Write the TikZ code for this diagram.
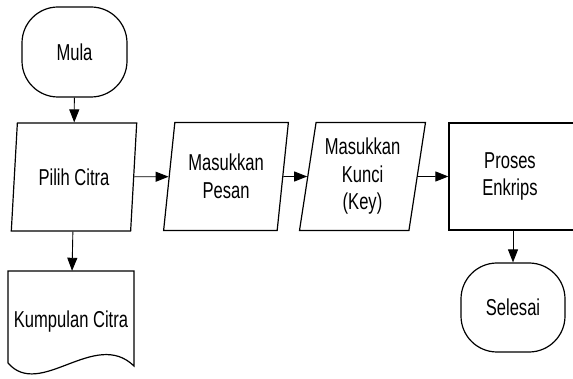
\documentclass[tikz,border=0pt]{standalone}
\usepackage{fontspec}
\setmainfont[FakeStretch=0.72]{Liberation Sans}
\usetikzlibrary{arrows.meta,shapes.geometric}
\tikzset{
	shape line/.style={line width=1.2pt},
	term/.style={shape line, draw, rounded corners=36pt, minimum width=105pt, minimum height=90pt},
	inout/.style={shape line, draw, trapezium, trapezium left angle=80, trapezium right angle=100, trapezium stretches=true, minimum width=126pt, minimum height=108pt, align=center},
	proc/.style={shape line, draw, rectangle, minimum width=132pt, minimum height=107pt, align=center},
	flow/.style={line width=0.9pt, -{Triangle[length=13pt,width=10pt]}}
}

\begin{document}
\begin{tikzpicture}[x=1pt,y=-1pt,font=\fontsize{23}{27.5}\selectfont]
			%%%%% START %%%%%
			\useasboundingbox (0, 0) rectangle (573, 379);
			
			\node[term] (mula) at (74.5, 52) {Mula};
			\node[inout] (pilih) at (74, 177) {Pilih Citra};
			\node[inout] (pesan) at (226, 176.5) {Masukkan\\Pesan};
			\node[inout] (kunci) at (362.5, 176.5) {Masukkan\\Kunci\\(Key)};
			\node[proc] (enkrip) at (515, 176.5) {\hspace*{-10pt}Proses\\\hspace*{-10pt}Enkrips};
			\node[term, minimum width=104pt, minimum height=89pt] (selesai) at (513, 307.5) {Selesai};
			
			% dokumen
			\node[minimum width=126pt, minimum height=102pt] (kumpulan) at (71, 322) {Kumpulan Citra};
			\draw[shape line] (8, 363) -- (8, 271) -- (134, 271) -- (134, 366) .. controls (95, 328) and (40, 400) .. (8, 363);
			
			\draw[flow] (mula) -- (pilih);
			\draw[flow] (pilih) -- (pesan);
			\draw[flow] (pesan) -- (kunci);
			\draw[flow] (kunci) -- (enkrip);
			\draw[flow] (enkrip.south -| selesai.north) -- (selesai);
			\draw[flow] (pilih) -- (kumpulan);
			
			%%%%% END %%%%%
\end{tikzpicture}
\end{document}
